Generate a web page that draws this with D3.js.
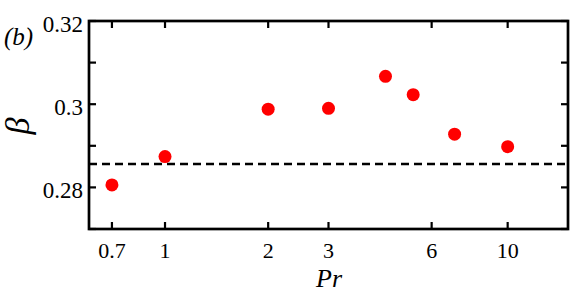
<!DOCTYPE html>
<html><head><meta charset="utf-8">
<script src="https://cdn.jsdelivr.net/npm/d3@7"></script>
<style>body{margin:0;background:#fff;}svg{display:block;}</style>
</head><body>
<script>
const prValues = [0.7, 1, 2, 3, 4.4, 5.3, 7, 10];
const betaValues = [0.2806, 0.2874, 0.2988, 0.2990, 0.3067, 0.3023, 0.2928, 0.2898];
const refBeta = 0.2856;
const xTicks = [0.7, 1, 2, 3, 6, 10];
const xTickLabels = ["0.7", "1", "2", "3", "6", "10"];
const yMajorTicks = [0.28, 0.30, 0.32];
const yTickLabels = ["0.28", "0.3", "0.32"];
const yMinorTicks = [0.27, 0.29, 0.31];

const W = 574, H = 293;
const L = 89, R = 568, T = 21, B = 229;
const svg = d3.select("body").append("svg").attr("width", W).attr("height", H);
const x = d3.scaleLog().domain([0.6, 15]).range([L, R]);
const y = d3.scaleLinear().domain([0.27, 0.32]).range([B, T]);
const font = "'Liberation Serif', 'Times New Roman', serif";
const tl = 7;

// dashed reference line
svg.append("line").attr("x1", L).attr("x2", R).attr("y1", y(refBeta)).attr("y2", y(refBeta))
  .attr("stroke", "#000").attr("stroke-width", 2.5).attr("stroke-dasharray", "8,5");

// points
svg.selectAll("circle.pt").data(prValues).enter().append("circle")
  .attr("cx", d => x(d)).attr("cy", (d, i) => y(betaValues[i])).attr("r", 6.5).attr("fill", "#ff0000");

// ticks
const g = svg.append("g").attr("stroke", "#000").attr("stroke-width", 2.2);
xTicks.forEach(t => {
  g.append("line").attr("x1", x(t)).attr("x2", x(t)).attr("y1", B).attr("y2", B - tl);
  g.append("line").attr("x1", x(t)).attr("x2", x(t)).attr("y1", T).attr("y2", T + tl);
});
yMajorTicks.concat(yMinorTicks).forEach(t => {
  g.append("line").attr("x1", L).attr("x2", L + tl).attr("y1", y(t)).attr("y2", y(t));
  g.append("line").attr("x1", R).attr("x2", R - tl).attr("y1", y(t)).attr("y2", y(t));
});

// frame
svg.append("rect").attr("x", L).attr("y", T).attr("width", R - L).attr("height", B - T)
  .attr("fill", "none").attr("stroke", "#000").attr("stroke-width", 2.7);

// tick labels
xTicks.forEach((t, i) => {
  svg.append("text").attr("x", x(t)).attr("y", 258).attr("text-anchor", "middle")
    .attr("font-family", font).attr("font-size", 22).text(xTickLabels[i]);
});
yMajorTicks.forEach((t, i) => {
  svg.append("text").attr("x", 83).attr("y", y(t) + 11).attr("text-anchor", "end")
    .attr("font-family", font).attr("font-size", 23).text(yTickLabels[i]);
});

// labels
svg.append("text").attr("x", 4).attr("y", 45).attr("font-family", font).attr("font-size", 25)
  .attr("font-style", "italic").text("(b)");
svg.append("text").attr("transform", "translate(29,126) rotate(-90)").attr("text-anchor", "middle")
  .attr("font-family", font).attr("font-size", 34).attr("font-style", "italic").text("β");
svg.append("text").attr("x", 329).attr("y", 287).attr("text-anchor", "middle")
  .attr("font-family", font).attr("font-size", 26).attr("font-style", "italic").text("Pr");
</script>
</body></html>
